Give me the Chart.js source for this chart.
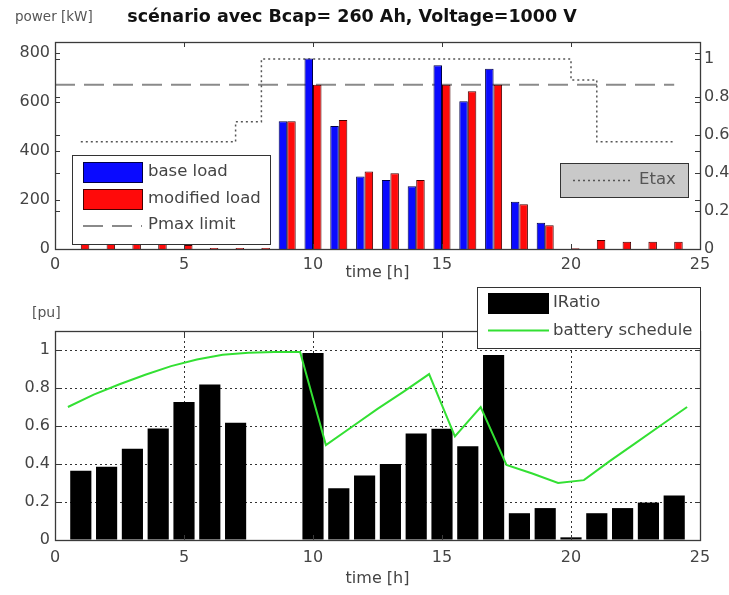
<!DOCTYPE html>
<html>
<head>
<meta charset="utf-8">
<script src="https://cdn.jsdelivr.net/npm/chart.js@4.4.0/dist/chart.umd.min.js"></script>
<style>
  html, body { margin: 0; padding: 0; background: #fff; }
  #wrap { position: relative; width: 729px; height: 595px; overflow: hidden; background: #fff; }
  #loadChart { position: absolute; left: 0; top: 0; }
  #ratioChart { position: absolute; left: 0; top: 285px; }
</style>
</head>
<body>
<div id="wrap">
  <canvas id="loadChart" width="729" height="285"></canvas>
  <canvas id="ratioChart" width="729" height="310"></canvas>
</div>
<script>
// ---- data ----
const hours = [1, 2, 3, 4, 5, 6, 7, 8, 9, 10, 11, 12, 13, 14, 15, 16, 17, 18, 19, 20, 21, 22, 23, 24];

// hourly power demand [kW]
const baseLoad     = [0, 0, 0, 0, 0, 0, 0, 0, 522, 778, 502, 296, 282, 256, 750, 603, 736, 193, 107, 0, 0, 0, 0, 0];
const modifiedLoad = [22, 22, 22, 20, 16, 4, 4, 4, 522, 670, 527, 316, 309, 282, 670, 644, 670, 183, 97, 3, 37, 30, 30, 30];

// grid power cap [kW] and its time span [h]
const pmaxLimit = 670;
const pmaxSpan = [0, 24];

// tariff signal (stairs, right axis)
const etax = [0.565, 0.565, 0.565, 0.565, 0.565, 0.565, 0.67, 1, 1, 1, 1, 1, 1, 1, 1, 1, 1, 1, 1, 0.89, 0.565, 0.565, 0.565, 0.565];

// current ratio per hour [pu]
const iRatio = [0.365, 0.385, 0.48, 0.587, 0.726, 0.818, 0.617, 0, 0, 0.984, 0.273, 0.339, 0.40, 0.56, 0.585, 0.494, 0.974, 0.141, 0.168, 0.014, 0.141, 0.168, 0.197, 0.234];

// battery state of charge [pu]
const scheduleTimes = [0.5, 1.5, 2.5, 3.5, 4.5, 5.5, 6.5, 7.5, 8.5, 9.5, 10.5, 11.5, 12.5, 13.5, 14.5, 15.5, 16.5, 17.5, 18.5, 19.5, 20.5, 21.5, 22.5, 23.5, 24.5];
const batterySchedule = [0.70, 0.765, 0.82, 0.87, 0.915, 0.95, 0.975, 0.985, 0.99, 0.99, 0.50, 0.595, 0.69, 0.78, 0.873, 0.545, 0.70, 0.395, 0.35, 0.30, 0.315, 0.415, 0.51, 0.605, 0.70];

// axis tick settings
const timeTickStep = 5;
const powerTickStep = 200;
const etaxTickStep = 0.2;
const puTickStep = 0.2;

const chartTitle = 'scénario avec Bcap= 260 Ah, Voltage=1000 V';
const powerLabel = 'power [kW]';
const puLabel = '[pu]';
const timeLabel = 'time [h]';

// ---- styling helpers ----
const FONT = "'DejaVu Sans', 'Liberation Sans', sans-serif";
Chart.defaults.font.family = FONT;
Chart.defaults.font.size = 16;
Chart.defaults.color = '#444';

const pts = (xs, ys) => xs.map((x, i) => ({ x: x, y: ys[i] }));
const plainNumber = v => String(+Number(v).toFixed(3));

// Box outline plus short inward tick marks on all four sides
const framePlugin = {
  id: 'frame',
  afterDatasetsDraw(chart) {
    const { ctx, chartArea: a } = chart;
    ctx.save();
    ctx.strokeStyle = '#3a3a3a';
    ctx.lineWidth = 1;
    ctx.setLineDash([]);
    const L = 5;
    ctx.beginPath();
    Object.values(chart.scales).forEach(s => {
      s.ticks.forEach(t => {
        const p = Math.round(s.getPixelForValue(t.value)) + 0.5;
        if (s.isHorizontal()) {
          if (p <= a.left + 1 || p >= a.right - 1) return;
          ctx.moveTo(p, a.bottom); ctx.lineTo(p, a.bottom - L);
          ctx.moveTo(p, a.top); ctx.lineTo(p, a.top + L);
        } else {
          if (p <= a.top + 1 || p >= a.bottom - 1) return;
          ctx.moveTo(a.left, p); ctx.lineTo(a.left + L, p);
          ctx.moveTo(a.right, p); ctx.lineTo(a.right - L, p);
        }
      });
    });
    ctx.stroke();
    ctx.lineWidth = 1.3;
    ctx.strokeRect(Math.round(a.left) + 0.5, Math.round(a.top) + 0.5, Math.round(a.right - a.left), Math.round(a.bottom - a.top));
    ctx.restore();
  }
};

function text(ctx, str, x, y, font, color, align) {
  ctx.font = font;
  ctx.fillStyle = color;
  ctx.textAlign = align || 'left';
  ctx.textBaseline = 'middle';
  ctx.fillText(str, x, y);
}

function legendBox(ctx, x, y, w, h, fill) {
  ctx.save();
  ctx.fillStyle = fill;
  ctx.fillRect(x, y, w, h);
  ctx.strokeStyle = '#333';
  ctx.lineWidth = 1;
  ctx.strokeRect(x + 0.5, y + 0.5, w, h);
  ctx.restore();
}

const loadDecor = {
  id: 'loadDecor',
  afterDraw(chart) {
    const ctx = chart.ctx;
    const ds = chart.data.datasets;
    ctx.save();
    text(ctx, powerLabel, 15, 17, `13.5px ${FONT}`, '#555');
    text(ctx, chartTitle, 352, 17, `bold 17.5px ${FONT}`, '#111', 'center');

    // legend for the load bars and the cap line
    legendBox(ctx, 72, 155, 198, 89, '#fff');
    const sw = [[ds[0], 162], [ds[1], 189]];
    sw.forEach(([d, yy]) => {
      ctx.fillStyle = d.backgroundColor;
      ctx.fillRect(83, yy, 59, 20);
      ctx.strokeStyle = d.borderColor;
      ctx.lineWidth = 1;
      ctx.strokeRect(83.5, yy + 0.5, 59, 20);
      text(ctx, d.label, 148, yy + 10, `16.5px ${FONT}`, '#444');
    });
    ctx.beginPath();
    ctx.strokeStyle = ds[2].borderColor;
    ctx.lineWidth = ds[2].borderWidth;
    ctx.setLineDash(ds[2].borderDash);
    ctx.moveTo(83, 226); ctx.lineTo(142, 226);
    ctx.stroke();
    ctx.setLineDash([]);
    text(ctx, ds[2].label, 148, 225, `16.5px ${FONT}`, '#444');

    // legend for the tariff stairs
    legendBox(ctx, 560, 163, 128, 34, '#c9c9c9');
    ctx.beginPath();
    ctx.strokeStyle = ds[3].borderColor;
    ctx.lineWidth = 1.3;
    ctx.setLineDash(ds[3].borderDash);
    ctx.moveTo(573, 180.5); ctx.lineTo(633, 180.5);
    ctx.stroke();
    ctx.setLineDash([]);
    text(ctx, ds[3].label, 639, 180, `16.5px ${FONT}`, '#555');
    ctx.restore();
  }
};

const ratioDecor = {
  id: 'ratioDecor',
  afterDraw(chart) {
    const ctx = chart.ctx;
    const ds = chart.data.datasets;
    ctx.save();
    text(ctx, puLabel, 32, 28, `14px ${FONT}`, '#555');
    legendBox(ctx, 477, 2, 223, 61, '#fff');
    ctx.fillStyle = ds[0].backgroundColor;
    ctx.fillRect(488, 8, 61, 21);
    text(ctx, ds[0].label, 553, 18, `16.5px ${FONT}`, '#444');
    ctx.beginPath();
    ctx.strokeStyle = ds[1].borderColor;
    ctx.lineWidth = ds[1].borderWidth;
    ctx.moveTo(488, 45.5); ctx.lineTo(549, 45.5);
    ctx.stroke();
    text(ctx, ds[1].label, 553, 46, `16.5px ${FONT}`, '#444');
    ctx.restore();
  }
};

const noGrid = { display: false, drawTicks: false, offset: false };

// ---- upper chart: load profiles ----
new Chart(document.getElementById('loadChart'), {
  type: 'bar',
  data: {
    datasets: [
      {
        label: 'base load', data: pts(hours, baseLoad), yAxisID: 'y',
        backgroundColor: '#0a0aff', borderColor: '#000046', borderWidth: 1,
        categoryPercentage: 0.66, barPercentage: 1, order: 1
      },
      {
        label: 'modified load', data: pts(hours, modifiedLoad), yAxisID: 'y',
        backgroundColor: '#ff0a0a', borderColor: '#460000', borderWidth: 1,
        categoryPercentage: 0.66, barPercentage: 1, order: 1
      },
      {
        type: 'line', label: 'Pmax limit', data: pmaxSpan.map(x => ({ x: x, y: pmaxLimit })), yAxisID: 'y',
        borderColor: '#8a8a8a', borderWidth: 2, borderDash: [20, 9], pointRadius: 0, order: 3
      },
      {
        type: 'line', label: 'Etax', data: pts(hours, etax), yAxisID: 'y1', stepped: true,
        borderColor: '#555', borderWidth: 1.5, borderDash: [2, 3], pointRadius: 0, order: 2
      }
    ]
  },
  options: {
    responsive: false, animation: false, devicePixelRatio: 1,
    layout: { padding: { top: 42, left: 0, right: 0, bottom: 0 } },
    plugins: { legend: { display: false }, tooltip: { enabled: false } },
    scales: {
      x: {
        type: 'linear', min: 0, max: 25, offset: false,
        ticks: { stepSize: timeTickStep, padding: 6 },
        grid: noGrid, border: { display: false },
        title: { display: true, text: timeLabel, font: { size: 16 }, color: '#444', padding: { top: 0, bottom: 3 } },
        afterFit(s) { s.height = 36; }
      },
      y: {
        position: 'left', min: 0, max: 845,
        ticks: { stepSize: powerTickStep, includeBounds: false, padding: 5 },
        grid: noGrid, border: { display: false },
        afterFit(s) { s.width = 55; }
      },
      y1: {
        position: 'right', min: 0, max: 1.09,
        ticks: { stepSize: etaxTickStep, includeBounds: false, padding: 4, callback: plainNumber },
        grid: noGrid, border: { display: false },
        afterFit(s) { s.width = 29; }
      }
    }
  },
  plugins: [framePlugin, loadDecor]
});

// ---- lower chart: current ratio and battery schedule ----
new Chart(document.getElementById('ratioChart'), {
  type: 'bar',
  data: {
    datasets: [
      {
        label: 'IRatio', data: pts(hours, iRatio),
        backgroundColor: '#000', borderColor: '#000', borderWidth: 0,
        categoryPercentage: 0.82, barPercentage: 1, order: 2
      },
      {
        type: 'line', label: 'battery schedule', data: pts(scheduleTimes, batterySchedule),
        borderColor: '#33e033', borderWidth: 2, pointRadius: 0, tension: 0, order: 1
      }
    ]
  },
  options: {
    responsive: false, animation: false, devicePixelRatio: 1,
    layout: { padding: { top: 46, left: 0, right: 29, bottom: 0 } },
    plugins: { legend: { display: false }, tooltip: { enabled: false } },
    scales: {
      x: {
        type: 'linear', min: 0, max: 25, offset: false,
        ticks: { stepSize: timeTickStep, padding: 8 },
        grid: { display: true, drawTicks: false, offset: false, color: '#333', lineWidth: 1 },
        border: { display: false, dash: [2, 3] },
        title: { display: true, text: timeLabel, font: { size: 16 }, color: '#444', padding: { top: 0, bottom: 7 } },
        afterFit(s) { s.height = 55; }
      },
      y: {
        min: 0, max: 1.1,
        ticks: { stepSize: puTickStep, includeBounds: false, padding: 5, callback: plainNumber },
        grid: { display: true, drawTicks: false, color: '#333', lineWidth: 1 },
        border: { display: false, dash: [2, 3] },
        afterFit(s) { s.width = 55; }
      }
    }
  },
  plugins: [framePlugin, ratioDecor]
});
</script>
</body>
</html>
